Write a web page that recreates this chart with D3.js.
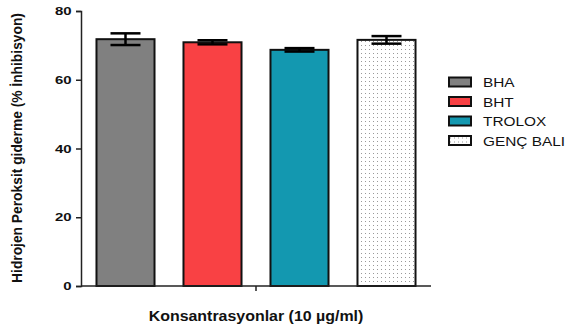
<!DOCTYPE html>
<html>
<head>
<meta charset="utf-8">
<script src="https://cdn.jsdelivr.net/npm/d3@7"></script>
<style>
  body { margin: 0; background: #fff; }
  text { font-family: "Liberation Sans", Arial, sans-serif; }
</style>
</head>
<body>
<svg width="567" height="327"></svg>
<script>
// data
var groups = ["BHA", "BHT", "TROLOX", "GENÇ BALI"];
var means = [71.8, 70.9, 68.7, 71.6];
var errs = [1.7, 0.6, 0.5, 1.1];
var colors = ["#808080", "#f94144", "#1398b0", "url(#dots)"];
var yTicks = [0, 20, 40, 60, 80];

var svg = d3.select("svg");

// dotted fill for the last bar
var defs = svg.append("defs");
var pat = defs.append("pattern")
    .attr("id", "dots")
    .attr("patternUnits", "userSpaceOnUse")
    .attr("width", 4).attr("height", 4);
pat.append("rect").attr("width", 4).attr("height", 4).attr("fill", "#fff");
pat.append("rect").attr("x", 1).attr("y", 1).attr("width", 1).attr("height", 1).attr("fill", "#999");

var x = d3.scaleBand()
    .domain(groups)
    .range([81, 431])
    .paddingInner(0.333)
    .paddingOuter(0.178);

var y = d3.scaleLinear()
    .domain([0, 80])
    .range([286, 11]);

// bars
svg.append("g").selectAll("rect")
    .data(groups)
    .enter().append("rect")
    .attr("x", function(d) { return x(d); })
    .attr("y", function(d, i) { return y(means[i]); })
    .attr("width", x.bandwidth())
    .attr("height", function(d, i) { return y(0) - y(means[i]); })
    .attr("fill", function(d, i) { return colors[i]; })
    .attr("stroke", "#111")
    .attr("stroke-width", 2);

// error bars
var eb = svg.append("g").attr("stroke", "#000").attr("stroke-width", 2.5);
groups.forEach(function(g, i) {
    var cx = x(g) + x.bandwidth() / 2;
    var top = y(means[i] + errs[i]), bot = y(means[i] - errs[i]);
    eb.append("line").attr("x1", cx).attr("x2", cx).attr("y1", top).attr("y2", bot);
    eb.append("line").attr("x1", cx - 15).attr("x2", cx + 15).attr("y1", top).attr("y2", top);
    eb.append("line").attr("x1", cx - 15).attr("x2", cx + 15).attr("y1", bot).attr("y2", bot);
});

// y axis
var yAxis = svg.append("g")
    .attr("transform", "translate(81,0)")
    .call(d3.axisLeft(y).tickValues(yTicks).tickSize(5).tickPadding(2.2));
yAxis.select(".domain").attr("stroke", "#222").attr("stroke-width", 1.5);
yAxis.selectAll(".tick line").attr("stroke", "#222").attr("stroke-width", 1.5);
yAxis.selectAll("text")
    .attr("font-size", 11.5)
    .attr("font-weight", "bold")
    .attr("fill", "#111")
    .attr("transform", "scale(1.3,1)")
    .style("font-family", "Liberation Sans, Arial, sans-serif");

// x axis
svg.append("line")
    .attr("x1", 81).attr("x2", 431)
    .attr("y1", y(0)).attr("y2", y(0))
    .attr("stroke", "#222").attr("stroke-width", 1.5);
svg.append("line")
    .attr("x1", 256).attr("x2", 256)
    .attr("y1", y(0)).attr("y2", y(0) + 5)
    .attr("stroke", "#222").attr("stroke-width", 1.5);

// axis titles
svg.append("text")
    .attr("transform", "translate(22,148) rotate(-90)")
    .attr("text-anchor", "middle")
    .attr("font-size", 13.8)
    .attr("font-weight", "bold")
    .attr("fill", "#111")
    .text("Hidrojen Peroksit giderme (% İnhibisyon)");

svg.append("text")
    .attr("transform", "translate(256,321) scale(1.1,1)")
    .attr("text-anchor", "middle")
    .attr("font-size", 14.5)
    .attr("font-weight", "bold")
    .attr("fill", "#111")
    .text("Konsantrasyonlar (10 µg/ml)");

// legend
var leg = svg.append("g").selectAll("g")
    .data(groups)
    .enter().append("g")
    .attr("transform", function(d, i) { return "translate(449," + (82 + i * 19.5) + ")"; });
leg.append("rect")
    .attr("x", 0).attr("y", -4.5)
    .attr("width", 22).attr("height", 9)
    .attr("fill", function(d, i) { return colors[i]; })
    .attr("stroke", "#111").attr("stroke-width", 2);
leg.append("text")
    .attr("transform", "translate(34,5) scale(1.14,1)")
    .attr("font-size", 13.5)
    .attr("fill", "#111")
    .text(function(d) { return d; });
</script>
</body>
</html>
